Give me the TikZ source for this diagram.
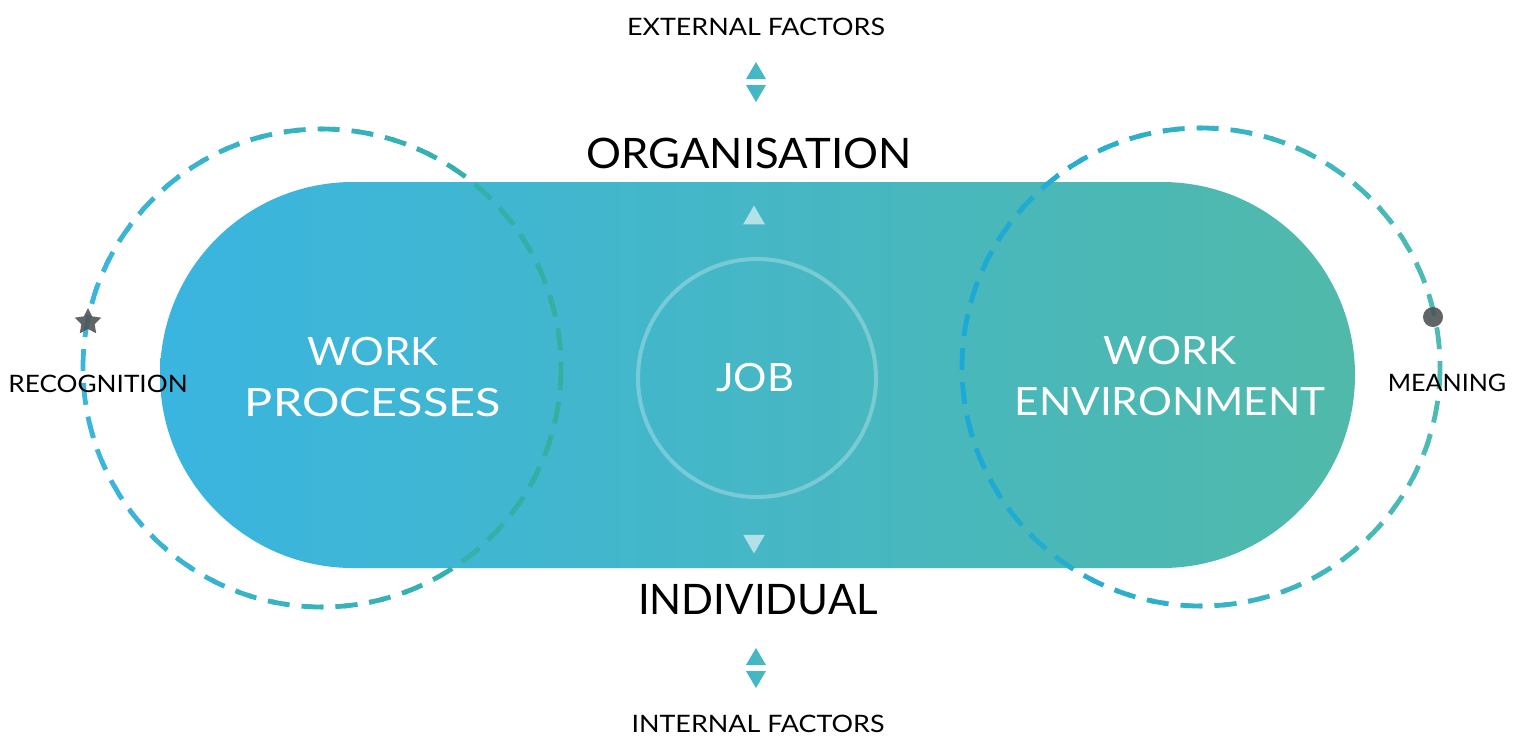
\documentclass[tikz,border=0pt]{standalone}
\usepackage{fontspec}
\setmainfont{Lato}
\usetikzlibrary{shapes.geometric,shapes.misc}
\definecolor{pillL}{HTML}{3AB5E0}
\definecolor{pillR}{HTML}{50B9AA}
\definecolor{ringBlue}{HTML}{3BB5DC}
\definecolor{ringTeal}{HTML}{34AFA0}
\definecolor{ringBlueB}{HTML}{1BA9D7}
\definecolor{ringTealB}{HTML}{4DBBB3}
\definecolor{arrowA}{HTML}{3DB5D0}
\definecolor{arrowB}{HTML}{4CBBB6}
\definecolor{inner}{HTML}{B2E2E8}
\definecolor{marker}{HTML}{4F5458}
% horizontal stretch of a word
\newcommand\wx[2]{\scalebox{#1}[1]{#2}}
\tikzset{
  big/.style={font=\fontsize{21}{25}\selectfont, text=black, inner sep=0pt},
  small/.style={font=\fontsize{12}{14}\selectfont, text=black, inner sep=0pt},
  inlabel/.style={font=\fontsize{19.5}{25.5}\selectfont, text=white, align=center, inner sep=0pt},
  ring/.style={line width=2.4pt, dash pattern=on 11pt off 6pt},
  tri/.style={regular polygon, regular polygon sides=3, inner sep=0pt},
}
\begin{document}
\begin{tikzpicture}[x=0.5pt,y=-0.5pt]
\useasboundingbox (0,0) rectangle (1520,736);
% central pill with horizontal gradient
\shade[left color=pillL, right color=pillR, rounded corners=96.5pt] (160,182) rectangle (1355,568);

% job ring
\node[circle, minimum size=119pt, draw=white, draw opacity=0.28, line width=2pt] (job) at (757,378) {};
\node[inlabel] (jobtxt) at (755,378) {\wx{1.07}{JOB}};

% inner arrow heads
\node[tri, fill=inner, minimum size=12.5pt] (upin) at (754,218) {};
\node[tri, fill=inner, minimum size=12.5pt, shape border rotate=180] (downin) at (754,541) {};

% dashed rings, coloured strip by strip from left to right
\foreach \i in {0,...,39}{
  \pgfmathsetmacro\pa{100-100*\i/39}
  \begin{scope}
    \clip (83+12*\i-3,0) rectangle (83+12*\i+12.5,736);
    \draw[ring, color=ringBlue!\pa!ringTeal] (322,368) circle[radius=239];
  \end{scope}
  \begin{scope}
    \clip (962+12*\i-3,0) rectangle (962+12*\i+12.5,736);
    \draw[ring, color=ringBlueB!\pa!ringTealB] (1201,367) circle[radius=239];
  \end{scope}
}
\coordinate (lc) at (322,368);
\coordinate (rc) at (1201,367);

% markers on the rings
\node[star, star points=5, star point ratio=2, fill=marker, fill opacity=0.9, minimum size=14pt, inner sep=0pt] (star) at (88,322) {};
\node[circle, fill=marker, fill opacity=0.9, minimum size=10pt, inner sep=0pt] (dot) at (1433,317) {};

% labels inside the pill
\node[inlabel] (wp) at (373,377) {\wx{1.08}{WORK}\\\wx{1.2}{PROCESSES}};
\node[inlabel] (we) at (1170,376) {\wx{1.09}{WORK}\\\wx{1.085}{ENVIRONMENT}};

% axis labels
\node[big] (org) at (749,153) {\wx{1.04}{ORGANISATION}};
\node[big] (ind) at (758,600) {INDIVIDUAL};
\node[small] (ext) at (756,27) {\wx{1.12}{EXTERNAL FACTORS}};
\node[small] (int) at (758,724) {\wx{1.12}{INTERNAL FACTORS}};
\node[small] (rec) at (98,384) {\wx{1.09}{RECOGNITION}};
\node[small] (mea) at (1447,383) {\wx{1.045}{MEANING}};

% outer arrow heads
\shade[left color=arrowA, right color=arrowB] (746,79) -- (766,79) -- (756,62) -- cycle;
\shade[left color=arrowA, right color=arrowB] (746,85) -- (766,85) -- (756,102) -- cycle;
\shade[left color=arrowA, right color=arrowB] (746,665) -- (766,665) -- (756,648) -- cycle;
\shade[left color=arrowA, right color=arrowB] (746,671) -- (766,671) -- (756,688) -- cycle;
\end{tikzpicture}
\end{document}
